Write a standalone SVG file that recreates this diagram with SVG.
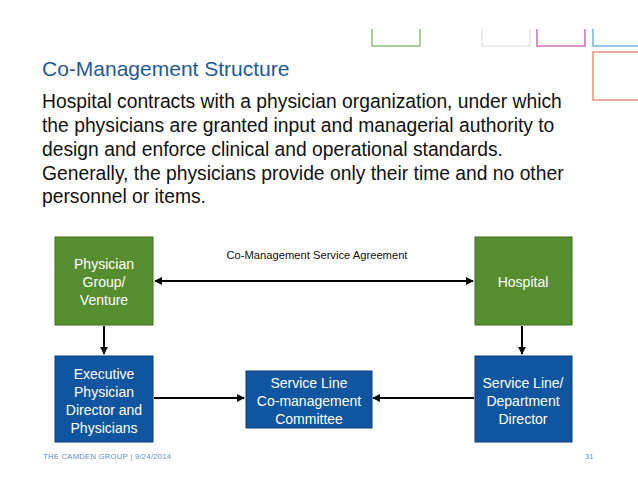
<svg xmlns="http://www.w3.org/2000/svg" width="638" height="493" viewBox="0 0 638 493">
<style>
.t{font-family:"Liberation Sans",Arial,sans-serif}
.title{font-size:21px;fill:#1f5a96}
.body{font-size:19.3px;fill:#111}
.g rect{fill:#568e2f;stroke:#3f6e21;stroke-width:1}
.b rect{fill:#0f55a0;stroke:#0a3d74;stroke-width:1}
.nt{font-size:14px;fill:#fff;text-anchor:middle}
.c line{stroke:#000;stroke-width:2}
.foot{font-size:7.6px;fill:#5b8fc7}
</style>
<defs>
<marker id="ah" viewBox="0 0 10 10" refX="9" refY="5" markerWidth="4" markerHeight="4" orient="auto-start-reverse">
<path d="M0,0 L10,5 L0,10 z" fill="#000"/>
</marker>
</defs>
<rect width="638" height="493" fill="#fff"/>
<g fill="none" stroke-width="1.5">
<path d="M372,29 V46 H420 V29" stroke="#8fc07a"/>
<path d="M482,29 V46 H530 V29" stroke="#e6e6e6"/>
<path d="M537,29 V46 H585 V29" stroke="#c673b8"/>
<path d="M593,29 V46 H638" stroke="#6fb6df"/>
<path d="M638,52 H593 V100 H638" stroke="#e8907a"/>
</g>
<text class="t title" x="42" y="76">Co-Management Structure</text>
<g class="t body">
<text x="42" y="108">Hospital contracts with a physician organization, under which</text>
<text x="42" y="132">the physicians are granted input and managerial authority to</text>
<text x="42" y="156">design and enforce clinical and operational standards.</text>
<text x="42" y="180">Generally, the physicians provide only their time and no other</text>
<text x="42" y="203">personnel or items.</text>
</g>
<text class="t" x="317" y="259" font-size="11.2" text-anchor="middle" fill="#111">Co-Management Service Agreement</text>
<g class="c">
<line x1="155" y1="281" x2="473" y2="281" marker-start="url(#ah)" marker-end="url(#ah)"/>
<line x1="104" y1="326" x2="104" y2="354" marker-end="url(#ah)"/>
<line x1="522" y1="326" x2="522" y2="354" marker-end="url(#ah)"/>
<line x1="154" y1="398" x2="244" y2="398" marker-end="url(#ah)"/>
<line x1="474" y1="398" x2="373" y2="398" marker-end="url(#ah)"/>
</g>
<g id="physician-group" class="g">
<rect x="55" y="237" width="98" height="88"/>
<text class="t nt" x="104" y="269">Physician</text>
<text class="t nt" x="104" y="287">Group/</text>
<text class="t nt" x="104" y="305">Venture</text>
</g>
<g id="hospital" class="g">
<rect x="475" y="237" width="97" height="88"/>
<text class="t nt" x="523" y="287">Hospital</text>
</g>
<g id="executive" class="b">
<rect x="55" y="356" width="98" height="86"/>
<text class="t nt" x="104" y="379">Executive</text>
<text class="t nt" x="104" y="397">Physician</text>
<text class="t nt" x="104" y="415">Director and</text>
<text class="t nt" x="104" y="433">Physicians</text>
</g>
<g id="committee" class="b">
<rect x="246" y="371" width="126" height="57"/>
<text class="t nt" x="309" y="388">Service Line</text>
<text class="t nt" x="309" y="406">Co-management</text>
<text class="t nt" x="309" y="424">Committee</text>
</g>
<g id="director" class="b">
<rect x="475" y="356" width="97" height="86"/>
<text class="t nt" x="523" y="388">Service Line/</text>
<text class="t nt" x="523" y="406">Department</text>
<text class="t nt" x="523" y="424">Director</text>
</g>
<text class="t foot" x="43" y="459" letter-spacing="0.3">THE CAMDEN GROUP  |  9/24/2014</text>
<text class="t foot" x="585" y="459" fill="#999">31</text>
</svg>
